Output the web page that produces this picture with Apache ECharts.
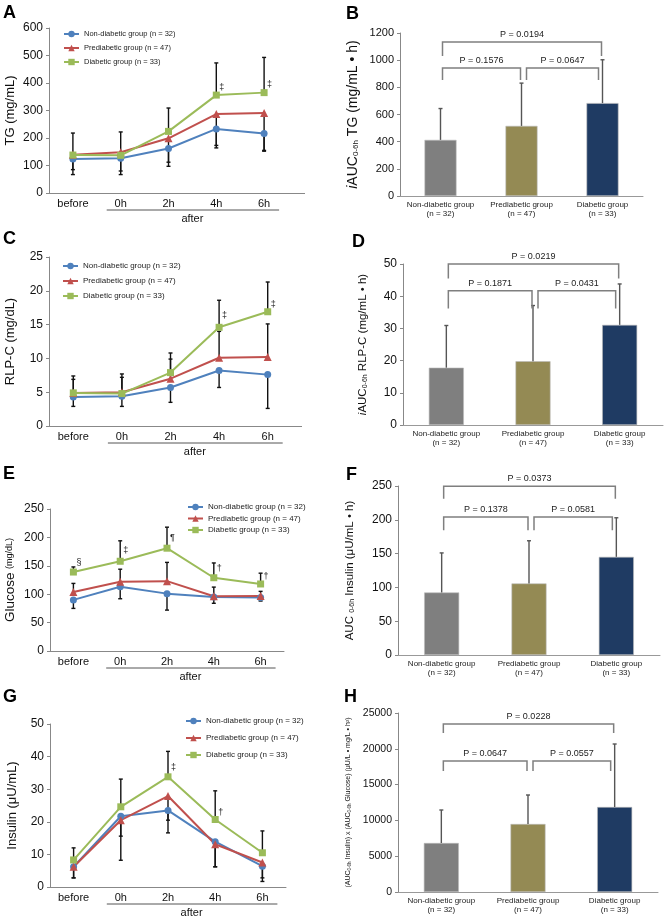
<!DOCTYPE html>
<html>
<head>
<meta charset="utf-8">
<script src="https://cdn.jsdelivr.net/npm/echarts@6/dist/echarts.min.js"></script>
<style>
  html, body { margin: 0; padding: 0; background: #fff; }
  #chart { width: 667px; height: 919px; }
</style>
</head>
<body>
<div id="chart"></div>
<script>
const FONT = "'Liberation Sans', Arial, sans-serif"

// shared labels
const timeLabels = ['before', '0h', '2h', '4h', '6h']
const groupNames = ['Non-diabetic group (n = 32)', 'Prediabetic group (n = 47)', 'Diabetic group (n = 33)']
const barLabels = ['Non-diabetic group\n(n = 32)', 'Prediabetic group\n(n = 47)', 'Diabetic group\n(n = 33)']

// A: TG
const tgNon = [124, 126, 162, 233, 216]
const tgPre = [139, 148, 199, 287, 291]
const tgDia = [138, 137, 224, 356, 365]
const tgNonSd = [57, 59, 65, 69, 64]
const tgPreSd = [54, 68, 87, 114, 136]
const tgDiaSd = [80, 85, 85, 117, 128]
const tgSig = ['', '', '', '‡', '‡']
const tgSigY = [0, 0, 0, 382, 394]

// B: iAUC TG
const aucTg = [413, 516, 684]
const aucTgSd = [231, 315, 319]
const aucTgBrackets = [[0, 2, 1134, 1031], [0, 1, 942, 854], [1, 2, 942, 854]]
const aucTgP = ['P = 0.0194', 'P = 0.1576', 'P = 0.0647']

// C: RLP-C
const rlpNon = [4.3, 4.4, 5.7, 8.2, 7.6]
const rlpPre = [4.9, 5.0, 7.0, 10.1, 10.2]
const rlpDia = [4.9, 4.8, 7.9, 14.6, 16.9]
const rlpNonSd = [1.4, 1.5, 2.2, 2.5, 5.0]
const rlpPreSd = [2.0, 2.2, 2.9, 3.9, 4.9]
const rlpDiaSd = [2.5, 2.9, 2.9, 4.0, 4.4]
const rlpSig = ['', '', '', '‡', '‡']
const rlpSigY = [0, 0, 0, 16.4, 17.9]

// D: iAUC RLP-C
const aucRlp = [17.8, 19.8, 31.1]
const aucRlpSd = [13.1, 17.3, 12.7]
const aucRlpBrackets = [[0, 2, 50, 45.5], [0, 1, 41.7, 36.2], [1, 2, 41.7, 36.2]]
const aucRlpP = ['P = 0.0219', 'P = 0.1871', 'P = 0.0431']

// E: glucose
const gluNon = [90, 113, 101, 95, 94]
const gluPre = [104, 122, 123, 96.5, 97]
const gluDia = [139, 158, 181, 129, 118]
const gluNonSd = [15, 21, 29, 11, 6]
const gluPreSd = [15, 22, 33, 16, 8]
const gluDiaSd = [9, 36, 37, 26, 19]
const gluSig = ['§', '‡', '¶', '†', '†']
const gluSigY = [156, 177, 200, 146, 131]

// F: AUC insulin
const aucIns = [92.5, 105.8, 145.2]
const aucInsSd = [58.5, 63.2, 57.8]
const aucInsBrackets = [[0, 2, 249.5, 231], [0, 1, 204, 184.5], [1, 2, 204, 184.5]]
const aucInsP = ['P = 0.0373', 'P = 0.1378', 'P = 0.0581']

// G: insulin
const insNon = [6.2, 21.7, 23.5, 13.9, 6.4]
const insPre = [6.2, 20.5, 27.9, 13.1, 7.5]
const insDia = [8.3, 24.6, 33.8, 20.7, 10.5]
const insNonSd = [3.4, 6.1, 6.9, 7.7, 4.7]
const insPreSd = [3.4, 12.3, 7.4, 6.9, 4.7]
const insDiaSd = [3.7, 8.5, 7.8, 8.8, 6.7]
const insSig = ['', '', '‡', '†', '']
const insSigY = [0, 0, 36.7, 22.9, 0]

// H: AUC insulin x AUC glucose
const aucProd = [6844, 9497, 11872]
const aucProdSd = [4608, 4050, 8798]
const aucProdBrackets = [[0, 2, 23464, 22200], [0, 1, 18300, 16900], [1, 2, 18300, 16900]]
const aucProdP = ['P = 0.0228', 'P = 0.0647', 'P = 0.0557']

const groupColors = ['#4f81bd', '#c0504d', '#9bbb59']
const groupSymbols = ['circle', 'triangle', 'rect']
const barColors = ['#7f7f7f', '#948a54', '#1f3b63']

const grids = []
const xAxes = []
const yAxes = []
const legends = []
const series = []
const linePanels = []

const errorBar = (dir, color) => (params, api) => {
  const x = api.value(0)
  const m = api.value(1)
  const e = api.value(2)
  const p0 = api.coord([x, m])
  const p1 = api.coord([x, m + dir * e])
  const st = { stroke: color, lineWidth: 1.4 }
  return {
    type: 'group',
    children: [
      { type: 'line', shape: { x1: p0[0], y1: p0[1], x2: p1[0], y2: p1[1] }, style: st },
      { type: 'line', shape: { x1: p1[0] - 2, y1: p1[1], x2: p1[0] + 2, y2: p1[1] }, style: st }
    ]
  }
}

const sigRender = (marks) => (params, api) => {
  const i = api.value(0)
  const p = api.coord([i, api.value(1)])
  return {
    type: 'text',
    x: p[0] + 3,
    y: p[1],
    style: { text: marks[i], fontSize: 9, fontFamily: FONT, fill: '#222', verticalAlign: 'middle', align: 'left' }
  }
}

const bracketRender = (labels) => (params, api) => {
  const l = api.value(0)
  const r = api.value(1)
  const pl = api.coord([l, api.value(2)])
  const pr = api.coord([r, api.value(2)])
  const yLeg = api.coord([l, api.value(3)])[1]
  const x1 = pl[0] + (l === 1 ? 5 : 2)
  const x2 = pr[0] - (l === 1 ? 4 : 1)
  return {
    type: 'group',
    children: [
      {
        type: 'polyline',
        shape: { points: [[x1, yLeg], [x1, pl[1]], [x2, pl[1]], [x2, yLeg]] },
        style: { stroke: '#7f7f7f', lineWidth: 1.5, fill: null }
      },
      {
        type: 'text',
        x: (x1 + x2) / 2,
        y: pl[1] - 3,
        style: { text: labels[params.dataIndex], fontSize: 9, fontFamily: FONT, fill: '#222', align: 'center', verticalAlign: 'bottom' }
      }
    ]
  }
}

const yAxisOf = (gi, cfg) => ({
  type: 'value',
  gridIndex: gi,
  min: 0,
  max: cfg.max,
  interval: cfg.interval,
  name: cfg.name,
  nameLocation: 'middle',
  nameGap: cfg.nameGap,
  nameRotate: 90,
  nameTextStyle: Object.assign({ fontFamily: FONT, color: '#111' }, cfg.nameStyle),
  axisLine: { show: true, lineStyle: { color: '#888', width: 1 } },
  axisTick: { show: true, length: 3, lineStyle: { color: '#888' } },
  axisLabel: { fontFamily: FONT, fontSize: cfg.tickFont || 12, color: '#111', margin: 6, formatter: (v) => String(v) },
  splitLine: { show: false }
})

function addLinePanel (cfg) {
  const gi = grids.length
  grids.push(cfg.box)
  xAxes.push({
    type: 'category',
    gridIndex: gi,
    data: timeLabels,
    axisLine: { lineStyle: { color: '#888' } },
    axisTick: { show: false },
    axisLabel: { fontFamily: FONT, fontSize: 11, color: '#111', margin: 5 }
  })
  yAxes.push(yAxisOf(gi, cfg))
  cfg.means.forEach((m, s) => {
    series.push({
      type: 'custom',
      xAxisIndex: gi,
      yAxisIndex: gi,
      z: 1,
      silent: true,
      renderItem: errorBar(cfg.dirs[s], '#111'),
      encode: { x: 0, y: 1 },
      data: m.map((v, i) => [i, v, cfg.sds[s][i]])
    })
  })
  cfg.means.forEach((m, s) => {
    series.push({
      type: 'line',
      name: groupNames[s],
      xAxisIndex: gi,
      yAxisIndex: gi,
      z: 3,
      data: m,
      symbol: groupSymbols[s],
      symbolSize: s === 1 ? 8 : 7,
      color: groupColors[s],
      lineStyle: { width: 2, color: groupColors[s] },
      itemStyle: { color: groupColors[s] }
    })
  })
  series.push({
    type: 'custom',
    xAxisIndex: gi,
    yAxisIndex: gi,
    z: 4,
    silent: true,
    renderItem: sigRender(cfg.sig),
    encode: { x: 0, y: 1 },
    data: cfg.sigY.map((v, i) => [i, v]).filter((d) => cfg.sig[d[0]])
  })
  legends.push(Object.assign({
    orient: 'vertical',
    itemWidth: 15,
    itemHeight: 8,
    padding: 0,
    data: groupNames,
    textStyle: { fontFamily: FONT, fontSize: cfg.legendFont, color: '#222' }
  }, cfg.legend))
  linePanels.push({ gi, extendTo: cfg.extendTo })
}

function addBarPanel (cfg) {
  const gi = grids.length
  grids.push(cfg.box)
  xAxes.push({
    type: 'category',
    gridIndex: gi,
    data: barLabels,
    axisLine: { lineStyle: { color: '#999' } },
    axisTick: { show: false },
    axisLabel: { fontFamily: FONT, fontSize: 8, color: '#222', margin: 4, lineHeight: 9, interval: 0 }
  })
  yAxes.push(yAxisOf(gi, cfg))
  series.push({
    type: 'bar',
    xAxisIndex: gi,
    yAxisIndex: gi,
    barWidth: cfg.barWidth,
    z: 2,
    data: cfg.means.map((v, i) => ({ value: v, itemStyle: { color: barColors[i], borderColor: '#bbb', borderWidth: 0.6 } }))
  })
  series.push({
    type: 'custom',
    xAxisIndex: gi,
    yAxisIndex: gi,
    z: 3,
    silent: true,
    renderItem: errorBar(1, '#555'),
    encode: { x: 0, y: 1 },
    data: cfg.means.map((v, i) => [i, v, cfg.sds[i]])
  })
  series.push({
    type: 'custom',
    xAxisIndex: gi,
    yAxisIndex: gi,
    z: 4,
    silent: true,
    renderItem: bracketRender(cfg.pLabels),
    encode: { x: [0, 1], y: [2, 3] },
    data: cfg.brackets
  })
}

const subStyle = (size) => ({ fontFamily: FONT, fontSize: size, verticalAlign: 'bottom', lineHeight: size + 1 })

addLinePanel({
  box: { left: 49, top: 28, width: 239, height: 165 },
  max: 600, interval: 100,
  name: 'TG (mg/mL)', nameGap: 32, nameStyle: { fontSize: 13 },
  means: [tgNon, tgPre, tgDia], sds: [tgNonSd, tgPreSd, tgDiaSd], dirs: [-1, -1, 1],
  sig: tgSig, sigY: tgSigY,
  legend: { left: 63, top: 30, itemGap: 6 }, legendFont: 7.5,
  extendTo: 305
})

addBarPanel({
  box: { left: 400, top: 33, width: 243, height: 163 },
  max: 1200, interval: 200, tickFont: 11,
  name: '{it|i}AUC{sub|0-6h} TG (mg/mL • h)', nameGap: 40,
  nameStyle: { fontSize: 14, rich: { it: { fontStyle: 'italic', fontSize: 14, fontFamily: FONT }, sub: subStyle(8) } },
  means: aucTg, sds: aucTgSd, brackets: aucTgBrackets, pLabels: aucTgP, barWidth: 32
})

addLinePanel({
  box: { left: 49, top: 257, width: 243, height: 169 },
  max: 25, interval: 5,
  name: 'RLP-C (mg/dL)', nameGap: 32, nameStyle: { fontSize: 13 },
  means: [rlpNon, rlpPre, rlpDia], sds: [rlpNonSd, rlpPreSd, rlpDiaSd], dirs: [-1, 1, 1],
  sig: rlpSig, sigY: rlpSigY,
  legend: { left: 62, top: 262, itemGap: 7 }, legendFont: 8,
  extendTo: 302
})

addBarPanel({
  box: { left: 403, top: 264, width: 260, height: 161 },
  max: 50, interval: 10,
  name: '{it|i}AUC{sub|0-6h} RLP-C (mg/mL • h)', nameGap: 34,
  nameStyle: { fontSize: 11.5, rich: { it: { fontStyle: 'italic', fontSize: 11.5, fontFamily: FONT }, sub: subStyle(7) } },
  means: aucRlp, sds: aucRlpSd, brackets: aucRlpBrackets, pLabels: aucRlpP, barWidth: 35
})

addLinePanel({
  box: { left: 50, top: 509, width: 234, height: 142 },
  max: 250, interval: 50,
  name: '{a|Glucose} {b|(mg/dL)}', nameGap: 33,
  nameStyle: { fontSize: 13, rich: { a: { fontSize: 13.5, fontFamily: FONT }, b: { fontSize: 9, fontFamily: FONT } } },
  means: [gluNon, gluPre, gluDia], sds: [gluNonSd, gluPreSd, gluDiaSd], dirs: [-1, 1, 1],
  sig: gluSig, sigY: gluSigY,
  legend: { left: 187, top: 503, itemGap: 3.5 }, legendFont: 8
})

addBarPanel({
  box: { left: 398, top: 486, width: 262, height: 169 },
  max: 250, interval: 50,
  name: 'AUC {sub|0-6h} Insulin (μU/mL • h)', nameGap: 42,
  nameStyle: { fontSize: 11.5, rich: { sub: subStyle(7) } },
  means: aucIns, sds: aucInsSd, brackets: aucInsBrackets, pLabels: aucInsP, barWidth: 35
})

addLinePanel({
  box: { left: 50, top: 724, width: 236, height: 163 },
  max: 50, interval: 10,
  name: 'Insulin (μU/mL)', nameGap: 31, nameStyle: { fontSize: 13 },
  means: [insNon, insPre, insDia], sds: [insNonSd, insPreSd, insDiaSd], dirs: [-1, -1, 1],
  sig: insSig, sigY: insSigY,
  legend: { left: 185, top: 717, itemGap: 9 }, legendFont: 8
})

addBarPanel({
  box: { left: 398, top: 713, width: 260, height: 179 },
  max: 25000, interval: 5000, tickFont: 10.5,
  name: '(AUC{sub|0-6h} Insulin) x (AUC{sub|0-6h} Glucose) (μU/L • mg/L • h²)', nameGap: 46,
  nameStyle: { fontSize: 7, rich: { sub: subStyle(4.5) } },
  means: aucProd, sds: aucProdSd, brackets: aucProdBrackets, pLabels: aucProdP, barWidth: 35
})

const letters = [['A', 3, 4], ['B', 346, 5], ['C', 3, 230], ['D', 352, 233], ['E', 3, 465], ['F', 346, 466], ['G', 3, 688], ['H', 344, 688]]

const option = {
  backgroundColor: '#fff',
  animation: false,
  title: letters.map(([t, x, y]) => ({
    text: t, left: x, top: y, padding: 0,
    textStyle: { fontFamily: FONT, fontSize: 18, fontWeight: 'bold', color: '#000' }
  })),
  grid: grids,
  xAxis: xAxes,
  yAxis: yAxes,
  legend: legends,
  series
}

const chart = echarts.init(document.getElementById('chart'))
chart.setOption(option)

// "after" underline below the post-load time points, and axis line tails
const extras = []
linePanels.forEach(({ gi, extendTo }) => {
  const p1 = chart.convertToPixel({ gridIndex: gi }, [1, 0])
  const p4 = chart.convertToPixel({ gridIndex: gi }, [4, 0])
  const y = p1[1] + 17
  extras.push({
    type: 'line',
    shape: { x1: p1[0] - 14, y1: y, x2: p4[0] + 15, y2: y },
    style: { stroke: '#555', lineWidth: 1 }
  })
  extras.push({
    type: 'text',
    x: (p1[0] + p4[0]) / 2,
    y: y + 9,
    style: { text: 'after', fontFamily: FONT, fontSize: 11, fill: '#111', align: 'center', verticalAlign: 'middle' }
  })
  if (extendTo) {
    const edge = p4[0] + (p4[0] - p1[0]) / 6
    extras.push({
      type: 'line',
      shape: { x1: edge, y1: p1[1] + 0.5, x2: extendTo, y2: p1[1] + 0.5 },
      style: { stroke: '#888', lineWidth: 1 }
    })
  }
})
chart.setOption({ graphic: extras })
</script>
</body>
</html>
